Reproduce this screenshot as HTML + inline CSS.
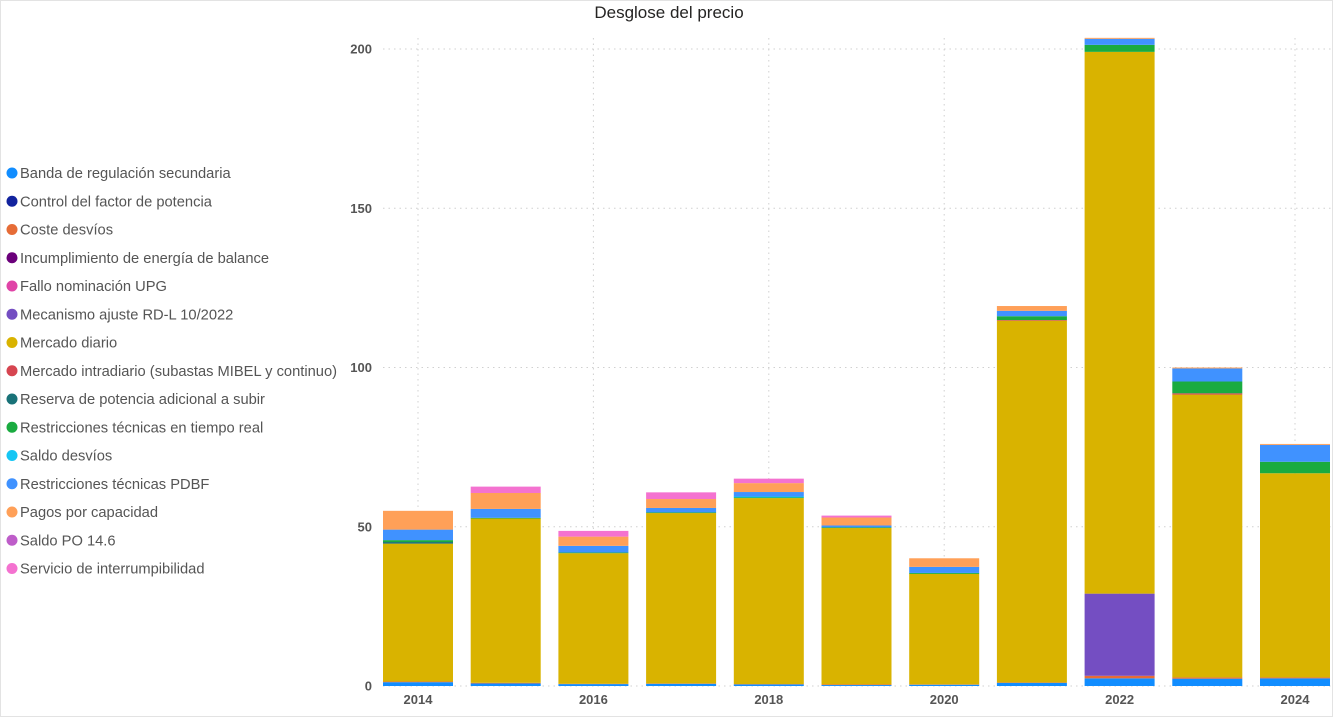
<!DOCTYPE html>
<html><head><meta charset="utf-8"><style>
body{margin:0;width:1333px;height:717px;overflow:hidden;background:#fff;font-family:"Liberation Sans",sans-serif}
#frame{position:absolute;left:0;top:0;width:1331px;height:715px;border:1px solid #e3e3e3}
</style></head><body>
<div id="frame"></div>
<svg id="chart" width="1333" height="717" style="position:absolute;left:0;top:0"></svg>
<script>
const years=[2014,2015,2016,2017,2018,2019,2020,2021,2022,2023,2024];
const seriesNames=["Banda de regulación secundaria","Control del factor de potencia","Coste desvíos","Incumplimiento de energía de balance","Fallo nominación UPG","Mecanismo ajuste RD-L 10/2022","Mercado diario","Mercado intradiario (subastas MIBEL y continuo)","Reserva de potencia adicional a subir","Restricciones técnicas en tiempo real","Saldo desvíos","Restricciones técnicas PDBF","Pagos por capacidad","Saldo PO 14.6","Servicio de interrumpibilidad"];
const colors=["#118DFF","#12239E","#E66C37","#6B007B","#E044A7","#744EC2","#D9B300","#D64550","#197278","#1AAB40","#15C6F4","#4092FF","#FFA058","#BE5DC9","#F472D0"];
const banda=[1.2,0.8,0.6,0.7,0.5,0.3,0.4,1.0,2.4,2.3,2.4];
const control=[0,0,0,0,0,0,0,0,0,0,0];
const coste=[0.2,0.2,0.1,0.1,0.1,0.2,0.1,0.1,0.8,0.4,0.3];
const incumpl=[0,0,0,0,0,0,0,0,0,0,0];
const fallo=[0,0,0,0,0,0,0,0,0,0,0];
const mecanismo=[0,0,0,0,0,0,0,0,25.8,0,0];
const diario=[43.3,51.6,41.0,53.5,58.4,49.1,34.7,113.6,170.1,88.8,64.1];
const intradiario=[0,0,0,0,0,0,0,0.2,0,0.4,0];
const reserva=[0.5,0,0,0,0,0,0,0,0,0,0];
const rtReal=[0.6,0.2,0.2,0.2,0.2,0.2,0.3,1.2,2.2,3.7,3.6];
const saldoDesvios=[0,0,0,0,0.3,0,0,0,0,0,0];
const pdbf=[3.3,2.8,2.1,1.4,1.4,0.6,1.9,1.7,1.9,4.1,5.3];
const pagos=[5.9,5.0,2.9,2.8,2.8,2.5,2.7,1.5,0.3,0.3,0.3];
const saldoPO=[0,0,0,0,0,0,0,0,0,0,0];
const interrump=[0,2.0,1.8,2.1,1.4,0.6,0,0,0,0,0];
const seriesValues=[banda,control,coste,incumpl,fallo,mecanismo,diario,intradiario,reserva,rtReal,saldoDesvios,pdbf,pagos,saldoPO,interrump];
const yTicks=[0,50,100,150,200];
const xTickYears=[2014,2016,2018,2020,2022,2024];

const NS="http://www.w3.org/2000/svg";
const svg=document.getElementById('chart');
function el(t,a,p){const e=document.createElementNS(NS,t);for(const k in a)e.setAttribute(k,a[k]);(p||svg).appendChild(e);return e;}
const y0=686,yScale=(686-49)/200;
const yPos=v=>y0-v*yScale;
const xCenter=yr=>418+(yr-2014)*87.7;
const barW=70;

const title=el('text',{x:669,y:18,'text-anchor':'middle','font-size':17,fill:'#252423'});
title.textContent='Desglose del precio';



yTicks.forEach(t=>{
  const g=el('line',{x1:383,x2:1333,y1:yPos(t),y2:yPos(t),stroke:'#d0d0d0','stroke-dasharray':'1.5 4'});
  
  
  const l=el('text',{x:372,y:yPos(t)+4.5,'text-anchor':'end','font-size':13,'font-weight':'bold',fill:'#555'});
  l.textContent=t;
  
  
});
xTickYears.forEach(yr=>{
  const g=el('line',{x1:xCenter(yr),x2:xCenter(yr),y1:38,y2:686,stroke:'#d0d0d0','stroke-dasharray':'1.5 4'});
  
  
  const l=el('text',{x:xCenter(yr),y:704,'text-anchor':'middle','font-size':13,'font-weight':'bold',fill:'#555'});
  l.textContent=yr;
  
  
});

years.forEach((yr,i)=>{
  let cum=0;
  seriesValues.forEach((arr,s)=>{
    const v=arr[i];
    if(v<=0)return;
    const r=el('rect',{x:xCenter(yr)-barW/2,y:yPos(cum+v),width:barW,height:v*yScale,fill:colors[s]});
    
    
    cum+=v;
  });
});

seriesNames.forEach((n,i)=>{
  const cy=173+i*28.25;
  const c=el('circle',{cx:12,cy:cy,r:5.5,fill:colors[i]});
  
  
  const t=el('text',{x:20,y:cy+5,'font-size':14.7,fill:'#555'});
  t.textContent=n;
  
  
});
</script>
</body></html>
